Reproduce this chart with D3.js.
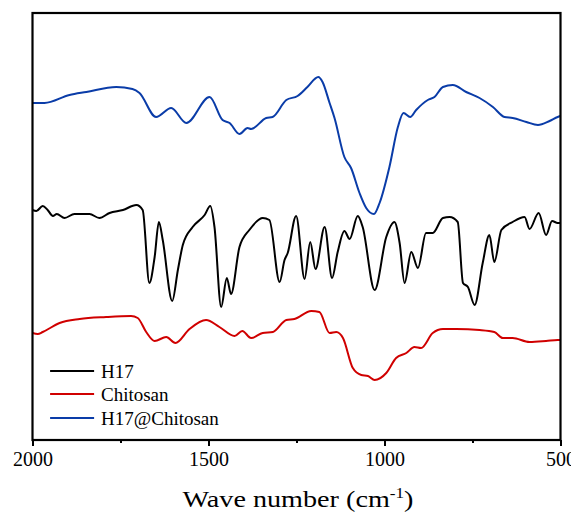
<!DOCTYPE html>
<html>
<head>
<meta charset="utf-8">
<script src="https://cdn.jsdelivr.net/npm/d3@7"></script>
<style>
  html, body { margin: 0; padding: 0; background: #fff; }
  svg { display: block; }
</style>
</head>
<body>
<div id="chart"></div>
<script>
// ---- Data (wavenumber in cm^-1, transmittance in arbitrary offset units) ----
const seriesNames = ["H17", "Chitosan", "H17@Chitosan"];
const seriesColors = ["#000000", "#d00000", "#0a3ca8"];

const h17Wn = [2000,1989,1971,1957,1942,1931,1909,1881,1838,1810,1781,1743,1705,1687,1668,1653,1641,1630,1603,1587,1573,1545,1511,1495,1483,1464,1448,1436,1412,1384,1346,1327,1298,1284,1275,1251,1227,1211,1196,1170,1149,1133,1114,1099,1076,1062,1028,995,972,957,943,924,905,882,863,834,815,792,777,763,744,721,702,688,668,636,602,588,562,541,524,508,500];
const h17Val = [231,230,235,231,225,227,223,227,227,223,228,231,236,231,158,184,219,201,140,171,196,214,226,235,214,134,163,147,194,211,223,221,159,181,188,225,162,199,172,214,163,189,210,202,225,214,151,204,219,198,158,189,173,208,208,223,224,219,158,154,136,178,206,179,211,219,224,212,228,206,220,218,218];

const chitWn = [2000,1985,1971,1923,1866,1791,1720,1701,1677,1653,1620,1594,1554,1507,1469,1426,1404,1379,1346,1317,1279,1256,1208,1185,1156,1137,1118,1090,1066,1047,1028,995,967,938,915,896,863,834,796,730,688,664,636,588,541,508,500];
const chitVal = [108,107,109,118,122,124,125,123,109,100,104,98,112,121,114,105,110,103,108,109,121,122,130,129,108,109,103,73,66,65,61,68,83,88,94,93,108,112,112,111,109,103,103,99,100,101,101];

const compWn = [2000,1966,1895,1847,1762,1716,1696,1649,1606,1563,1497,1460,1440,1412,1389,1379,1336,1318,1279,1247,1219,1188,1176,1156,1142,1114,1095,1071,1052,1030,1014,986,962,946,927,910,877,858,834,806,768,730,692,659,636,597,564,531,508,500];
const compVal = [338,338,346,349,354,352,348,324,333,318,344,321,318,307,313,312,323,324,341,345,354,364,359,338,323,284,273,248,233,227,238,274,314,328,324,331,341,344,354,356,349,343,334,324,323,319,316,320,324,325];

const xTicks = [2000, 1500, 1000, 500];
const xMinorTicks = [1750, 1250, 750];
const xTitle = "Wave number (cm";

// ---- Layout ----
const W = 571, H = 513;
const padL = 32.5, padR = 560.5, padT = 13, padB = 440;

const svg = d3.select("#chart").append("svg")
  .attr("width", W).attr("height", H)
  .style("background", "#fff");

const x = d3.scaleLinear().domain([2000, 500]).range([padL, padR]);
const y = d3.scaleLinear().domain([0, 428]).range([441, 13]);

const series = [
  { name: seriesNames[0], color: seriesColors[0], wn: h17Wn, val: h17Val },
  { name: seriesNames[1], color: seriesColors[1], wn: chitWn, val: chitVal },
  { name: seriesNames[2], color: seriesColors[2], wn: compWn, val: compVal }
];

const line = d3.line()
  .x(d => x(d[0]))
  .y(d => y(d[1]))
  .curve(d3.curveMonotoneX);

const g = svg.append("g");
series.forEach(s => {
  const pts = s.wn.map((w, i) => [w, s.val[i]]);
  g.append("path")
    .datum(pts)
    .attr("d", line)
    .attr("fill", "none")
    .attr("stroke", s.color)
    .attr("stroke-width", 2)
    .attr("stroke-linejoin", "round");
});

// Frame
svg.append("rect")
  .attr("x", padL).attr("y", padT)
  .attr("width", padR - padL).attr("height", padB - padT)
  .attr("fill", "none").attr("stroke", "#000").attr("stroke-width", 2.2);

// X axis (major)
const ax = svg.append("g").attr("transform", `translate(0,${padB})`)
  .call(d3.axisBottom(x).tickValues(xTicks).tickSize(6).tickPadding(6).tickFormat(d3.format("d")));
ax.select(".domain").remove();
ax.selectAll(".tick line").attr("stroke", "#000").attr("stroke-width", 2);
ax.selectAll(".tick text")
  .attr("font-family", "'Liberation Serif', 'Times New Roman', serif")
  .attr("font-size", 20).attr("fill", "#000");

// Minor ticks
const axm = svg.append("g").attr("transform", `translate(0,${padB})`)
  .call(d3.axisBottom(x).tickValues(xMinorTicks).tickSize(3).tickFormat(""));
axm.select(".domain").remove();
axm.selectAll(".tick line").attr("stroke", "#000").attr("stroke-width", 2);

// Axis title
const t = svg.append("text")
  .attr("x", 298).attr("y", 507)
  .attr("text-anchor", "middle")
  .attr("font-family", "'Liberation Serif', 'Times New Roman', serif")
  .attr("font-size", 23).attr("fill", "#000")
  .attr("textLength", 231).attr("lengthAdjust", "spacingAndGlyphs");
t.append("tspan").text(xTitle);
t.append("tspan").attr("font-size", 14).attr("dy", -9).text("-1");
t.append("tspan").attr("dy", 9).text(")");

// Legend
const legY = [371, 394, 418];
series.forEach((s, i) => {
  svg.append("line")
    .attr("x1", x(1950)).attr("x2", x(1825))
    .attr("y1", legY[i]).attr("y2", legY[i])
    .attr("stroke", s.color).attr("stroke-width", 2);
  svg.append("text")
    .attr("x", 101).attr("y", legY[i])
    .attr("dy", "0.35em")
    .attr("font-family", "'Liberation Serif', 'Times New Roman', serif")
    .attr("font-size", 19).attr("fill", "#000")
    .text(s.name);
});
</script>
</body>
</html>
